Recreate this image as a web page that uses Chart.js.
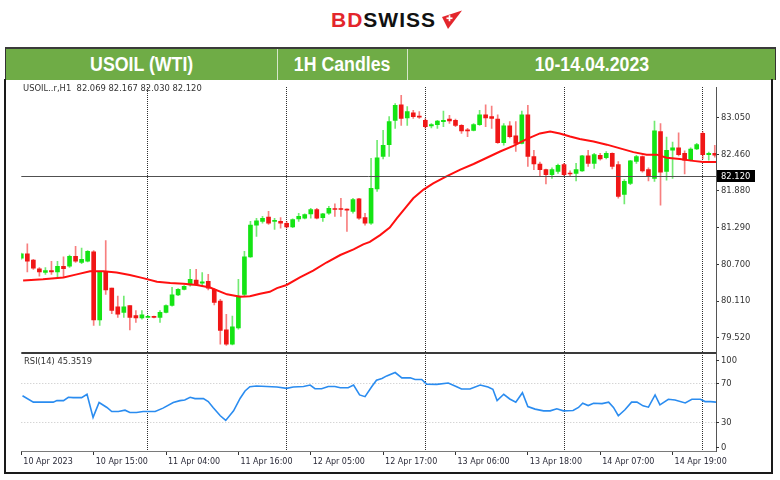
<!DOCTYPE html>
<html><head><meta charset="utf-8">
<script src="https://cdn.jsdelivr.net/npm/chart.js@4.4.0/dist/chart.umd.min.js"></script>
<style>
html,body{margin:0;padding:0;background:#fff;}
body{width:780px;height:480px;position:relative;overflow:hidden;font-family:"Liberation Sans",Arial,sans-serif;}
#logo{position:absolute;left:331px;top:9px;font-weight:bold;font-size:21px;letter-spacing:1px;line-height:22px;white-space:nowrap;}
#logo .bd{color:#e3262c}
#logo .sw{color:#111}
#icon{position:absolute;left:441px;top:10px;}
#hdr{position:absolute;left:5px;top:47px;width:771px;height:33px;background:#6fac46;border-top:2px solid #3a3a3a;border-left:1px solid #333;border-right:1px solid #333;box-sizing:border-box;}
.cell{position:absolute;top:0;height:31px;display:flex;align-items:center;justify-content:center;color:#fff;font-weight:bold;font-size:19.5px;}
.cell span{display:inline-block;transform:scaleX(0.91);}
.dv{position:absolute;top:0;width:1px;height:31px;background:#d6e6ca;}
#frame{position:absolute;left:4px;top:79px;width:769px;height:395px;border-left:2px solid #1a1a1a;border-right:2px solid #1a1a1a;border-bottom:2px solid #1a1a1a;box-sizing:border-box;}
#wrap{position:absolute;left:0;top:80px;width:772px;height:393px;}
.mt{position:absolute;font-family:"DejaVu Sans",sans-serif;font-size:8.4px;color:#333;white-space:pre;line-height:10px;}
</style></head>
<body>
<div id="logo"><span class="bd">BD</span><span class="sw">SWISS</span></div>
<svg id="icon" width="24" height="22" viewBox="0 0 24 22"><polygon points="1,7 21,0.5 7,19" fill="#e3262c"/><rect x="5.5" y="7.4" width="6" height="1.7" fill="#fff"/><rect x="7.65" y="5.25" width="1.7" height="6" fill="#fff"/></svg>
<div id="hdr">
  <div class="cell" style="left:0;width:271px"><span>USOIL (WTI)</span></div>
  <div class="dv" style="left:271px"></div>
  <div class="cell" style="left:272px;width:129px"><span>1H Candles</span></div>
  <div class="dv" style="left:401px"></div>
  <div class="cell" style="left:402px;width:367px"><span>10-14.04.2023</span></div>
</div>
<div id="frame"></div>
<div id="wrap"><canvas id="c" width="772" height="393"></canvas></div>
<div class="mt" style="left:23px;top:83px">USOIL..r,H1  82.069 82.167 82.030 82.120</div>
<div class="mt" style="left:24px;top:356px">RSI(14) 45.3519</div>
<script>
// ---- Candle data (hourly bars) ----
const opens  = [80.80,80.87,80.77,80.63,80.57,80.60,80.58,80.67,80.67,80.83,80.73,80.75,80.90,79.81,80.58,80.32,80.02,79.93,80.04,79.88,79.84,79.85,79.86,79.85,79.93,80.04,80.21,80.30,80.37,80.45,80.40,80.43,80.30,80.11,79.65,79.42,79.68,80.22,80.82,81.33,81.39,81.46,81.39,81.39,81.36,81.30,81.43,81.44,81.51,81.58,81.45,81.52,81.59,81.59,81.58,81.55,81.75,81.45,81.36,81.91,82.43,82.62,83.01,83.26,83.05,83.13,83.08,83.01,82.92,82.94,82.99,83.03,83.01,82.93,82.85,82.85,82.94,83.10,83.07,83.03,82.65,82.92,82.76,82.64,83.10,82.43,82.31,82.22,82.14,82.19,82.30,82.16,82.16,82.20,82.44,82.32,82.45,82.41,82.48,82.30,81.82,82.00,82.35,82.43,82.22,82.08,82.83,82.19,82.53,82.57,82.48,82.37,82.55,82.80,82.46,82.48];
const highs  = [80.88,81.03,80.78,80.65,80.65,80.75,80.75,80.82,80.85,80.99,80.96,80.92,80.92,80.59,81.08,80.32,80.19,80.19,80.04,79.96,79.96,79.88,79.87,79.96,80.05,80.33,80.31,80.36,80.62,80.62,80.57,80.54,80.31,80.14,79.90,79.87,80.46,80.91,81.39,81.44,81.47,81.55,81.44,81.45,81.39,81.43,81.52,81.51,81.60,81.60,81.52,81.63,81.67,81.76,81.59,81.76,81.76,81.52,82.40,82.69,82.85,83.07,83.28,83.41,83.23,83.17,83.15,83.04,82.96,83.01,83.16,83.09,83.03,82.94,82.88,82.96,83.17,83.26,83.24,83.10,82.96,82.99,82.99,83.16,83.25,82.53,82.34,82.23,82.25,82.31,82.32,82.20,82.32,82.45,82.53,82.48,82.48,82.51,82.49,82.35,82.06,82.37,82.45,82.44,82.25,83.00,82.96,82.74,82.66,82.81,82.52,82.57,82.64,82.83,82.50,82.61];
const lows   = [80.78,80.58,80.62,80.51,80.54,80.54,80.49,80.49,80.65,80.73,80.71,80.74,79.72,79.72,80.22,79.91,79.85,79.85,79.65,79.77,79.82,79.84,79.84,79.77,79.92,80.03,80.20,80.29,80.35,80.37,80.35,80.29,80.05,79.42,79.40,79.41,79.66,80.19,80.81,81.15,81.36,81.34,81.26,81.28,81.28,81.29,81.39,81.43,81.44,81.43,81.39,81.50,81.47,81.47,81.23,81.52,81.42,81.33,81.34,81.87,82.39,82.43,82.88,82.93,82.93,83.04,83.04,82.88,82.89,82.88,82.91,82.96,82.91,82.80,82.75,82.84,82.93,82.91,82.88,82.64,82.61,82.73,82.51,82.63,82.27,82.22,82.11,81.99,82.08,82.16,82.11,82.11,82.04,82.19,82.27,82.24,82.37,82.39,82.23,81.76,81.67,81.98,82.32,82.18,82.04,82.03,81.65,82.05,82.08,82.44,82.15,82.36,82.54,82.39,82.37,82.42];
const closes = [80.87,80.75,80.64,80.58,80.60,80.58,80.67,80.63,80.83,80.75,80.78,80.91,79.81,80.58,80.29,79.96,79.90,80.02,79.85,79.84,79.89,79.86,79.85,79.93,80.04,80.21,80.30,80.35,80.46,80.38,80.42,80.32,80.09,79.64,79.42,79.70,80.19,80.82,81.33,81.40,81.44,81.36,81.40,81.36,81.30,81.42,81.47,81.50,81.58,81.44,81.51,81.60,81.58,81.58,81.57,81.74,81.44,81.36,81.92,82.41,82.61,82.99,83.25,83.04,83.15,83.07,83.06,82.91,82.94,83.00,83.01,83.00,82.93,82.84,82.84,82.94,83.10,83.05,83.04,82.65,82.92,82.75,82.64,83.10,82.43,82.31,82.22,82.14,82.22,82.29,82.14,82.15,82.22,82.44,82.32,82.46,82.39,82.48,82.27,81.79,82.03,82.36,82.43,82.20,82.11,82.84,82.18,82.53,82.57,82.46,82.37,82.55,82.62,82.46,82.48,82.45];

// ---- Moving average (read at sampled bar positions) ----
const maBars = [0.3,3.6,7.0,9.2,11.4,13.6,15.8,18.0,20.2,22.5,24.7,26.9,29.1,31.3,34.1,36.3,37.9,39.6,41.2,42.4,44.0,46.2,48.4,50.6,52.9,55.1,56.7,57.8,59.5,61.1,62.3,63.9,65.0,66.7,68.3,70.5,72.8,75.0,77.2,79.4,81.6,83.8,86.0,87.7,89.3,91.0,92.6,94.9,97.1,99.3,101.5,103.7,105.4,107.0,109.2,111.4,113.1,115.2];
const maVals = [80.44,80.46,80.49,80.54,80.59,80.59,80.57,80.53,80.48,80.42,80.40,80.39,80.37,80.33,80.22,80.18,80.19,80.23,80.26,80.32,80.37,80.49,80.60,80.73,80.85,80.94,81.02,81.06,81.17,81.29,81.44,81.63,81.76,81.90,82.00,82.11,82.22,82.31,82.41,82.51,82.60,82.71,82.80,82.83,82.80,82.75,82.71,82.67,82.62,82.56,82.50,82.46,82.46,82.41,82.39,82.36,82.34,82.34];

// ---- RSI(14) (read at vertex bar positions) ----
const rsiBars = [0.2,2.0,5.3,5.9,7.0,7.8,8.6,10.0,10.9,11.9,12.9,14.2,15.0,16.1,17.2,18.0,19.1,20.2,22.2,23.5,25.2,26.3,27.1,28.0,28.8,30.2,31.0,31.8,33.0,33.9,35.2,36.3,37.1,37.9,39.0,40.7,42.4,44.0,45.1,46.8,47.9,48.7,49.8,50.9,52.0,52.9,54.2,55.1,56.1,57.0,58.1,58.9,59.8,60.6,62.0,63.1,64.5,65.3,66.4,67.2,68.9,70.8,72.2,73.0,74.4,76.1,77.4,78.2,78.9,80.0,81.0,82.0,83.1,84.0,85.2,86.6,87.7,88.8,89.9,91.5,92.4,93.1,94.0,94.9,96.3,97.4,98.2,99.0,100.1,101.2,102.1,103.1,104.0,105.1,105.9,107.3,108.4,110.1,111.2,112.6,113.4,114.3,115.2];
const rsiVals = [57.3,50.6,50.6,52.2,52.2,55.7,55.3,55.3,58.8,34.8,50.2,45.1,40.9,40.9,42.3,39.9,39.9,40.9,40.9,44.4,50.2,52.2,52.9,55.7,54.3,54.3,51.2,45.1,36.5,31.7,41.6,54.7,62.2,66.6,67.3,66.9,66.3,64.9,66.3,66.9,68.3,64.5,64.5,66.9,66.9,65.5,65.5,68.3,58.1,56.3,66.6,73.4,75.2,77.8,81.3,75.8,75.8,74.1,74.1,69.3,69.0,70.4,66.6,64.2,64.2,68.3,66.3,63.9,52.2,58.8,53.9,50.6,60.4,46.1,43.4,41.6,41.6,43.7,41.6,42.0,45.1,49.5,47.1,49.5,49.1,50.6,45.1,36.5,42.7,50.6,50.6,46.8,45.4,58.1,47.8,53.6,52.9,49.8,53.6,53.6,51.2,51.2,50.6];

// ---- Axes / ticks ----
const xLabelBars = [0,12,24,36,48,60,72,84,96,108];
const xLabels = ['10 Apr 2023','10 Apr 15:00','11 Apr 04:00','11 Apr 16:00','12 Apr 05:00','12 Apr 17:00','13 Apr 06:00','13 Apr 18:00','14 Apr 07:00','14 Apr 19:00'];
const gridBars = [21,44,67,90,113];
const yTicks = [79.52,80.11,80.70,81.29,81.88,82.46,83.05];
const rsiTicks = [100,70,30,0];
const rsiGrid = [70,30];
const currentPrice = 82.12;

const GREEN = '#14e414', RED = '#f01616';
const GREEN_W = 'rgba(20,220,20,0.6)', RED_W = 'rgba(240,22,22,0.55)';
const up = opens.map((o,i) => closes[i] >= o);

Chart.defaults.font.family = '"DejaVu Sans", sans-serif';

const overlay = {
  id: 'overlay',
  afterDatasetsDraw(chart) {
    const {ctx, chartArea: a, scales} = chart;
    ctx.save();
    const py = Math.round(scales.y.getPixelForValue(currentPrice)) + 0.5;
    ctx.strokeStyle = '#505050'; ctx.lineWidth = 1;
    ctx.beginPath(); ctx.moveTo(a.left, py); ctx.lineTo(a.right, py); ctx.stroke();
    ctx.strokeStyle = '#3a3a3a'; ctx.lineWidth = 2;
    const sy = Math.round(scales.y.bottom);
    ctx.beginPath(); ctx.moveTo(a.left, sy); ctx.lineTo(a.right, sy); ctx.stroke();
    const by = Math.round(a.bottom) + 0.5;
    ctx.strokeStyle = '#7a7a7a'; ctx.lineWidth = 1;
    ctx.beginPath(); ctx.moveTo(a.left, by); ctx.lineTo(a.right, by); ctx.stroke();
    ctx.restore();
  },
  afterDraw(chart) {
    const {ctx, chartArea: a, scales} = chart;
    ctx.save();
    const py = Math.round(scales.y.getPixelForValue(currentPrice));
    ctx.fillStyle = '#000';
    ctx.fillRect(a.right + 1, py - 6, 38, 12);
    ctx.fillStyle = '#fff';
    ctx.font = '8.4px "DejaVu Sans"';
    ctx.textBaseline = 'middle'; ctx.textAlign = 'left';
    ctx.fillText(currentPrice.toFixed(3), a.right + 5, py + 0.5);
    const shift = [6, 0, 0, -4];
    ctx.fillStyle = '#333';
    rsiTicks.forEach((v, i) => {
      const y = Math.round(scales.rsi.getPixelForValue(v) + shift[i]);
      ctx.fillRect(a.right, y, 3, 1);
      ctx.fillText(String(v), a.right + 5, y + 0.5);
    });
    ctx.restore();
  }
};

new Chart(document.getElementById('c'), {
  type: 'bar',
  data: {
    datasets: [
      {type:'line', data: maBars.map((b,i)=>({x:b, y:maVals[i]})), xAxisID:'x', yAxisID:'y',
       borderColor:'#ff1010', borderWidth:2, pointRadius:0, tension:0, order:0},
      {type:'line', data: rsiBars.map((b,i)=>({x:b, y:rsiVals[i]})), xAxisID:'x', yAxisID:'rsi',
       borderColor:'#2a8cf0', borderWidth:1.6, pointRadius:0, tension:0, order:0},
      {type:'bar', data: opens.map((o,i)=>({x:i, y:[o, closes[i]]})), xAxisID:'x', yAxisID:'y',
       backgroundColor: up.map(u => u ? GREEN : RED), barThickness:4, minBarLength:1, grouped:false, order:2},
      {type:'bar', data: lows.map((l,i)=>({x:i, y:[l, highs[i]]})), xAxisID:'x', yAxisID:'y',
       backgroundColor: up.map(u => u ? GREEN_W : RED_W), barThickness:1, grouped:false, order:3}
    ]
  },
  options: {
    responsive:false, animation:false, events:[], devicePixelRatio:1,
    layout:{padding:{left:21.3, top:5, right:0, bottom:0}},
    plugins:{legend:{display:false}, tooltip:{enabled:false}},
    scales: {
      x: {type:'linear', axis:'x', position:'bottom', min:0, max:115.2, offset:false,
          afterBuildTicks: s => { s.ticks = xLabelBars.map(v => ({value:v})); },
          afterFit: s => { s.height = 22; },
          ticks:{autoSkip:false, maxRotation:0, minRotation:0, align:'start', labelOffset:2, padding:2,
                 color:'#2a2a38', font:{size:8}, callback: v => { const k = xLabelBars.indexOf(v); return k >= 0 ? xLabels[k] : ''; }},
          grid:{display:true, drawOnChartArea:false, drawTicks:true, tickLength:4, tickColor:'#333', offset:false},
          border:{display:false}},
      xg: {type:'linear', axis:'x', position:'top', min:0, max:115.2, offset:false,
          afterBuildTicks: s => { s.ticks = gridBars.map(v => ({value:v})); },
          afterFit: s => { s.height = 0; },
          ticks:{display:false},
          grid:{display:true, drawOnChartArea:true, drawTicks:false, color:'#2e2e2e', lineWidth:1, offset:false},
          border:{display:false, dash:[1,1]}},
      y: {type:'linear', axis:'y', position:'right', stack:'pane', stackWeight:267, min:79.286, max:83.544,
          afterBuildTicks: s => { s.ticks = yTicks.map(v => ({value:v})); },
          afterFit: s => { s.width = 56; },
          ticks:{color:'#333', font:{size:8.4}, padding:2, callback: v => Number(v).toFixed(3)},
          grid:{drawOnChartArea:false, drawTicks:true, tickLength:3, tickColor:'#333'},
          border:{display:true, color:'#555', width:1}},
      rsi: {type:'linear', axis:'y', position:'right', stack:'pane', stackWeight:99, min:0, max:102,
          afterBuildTicks: s => { s.ticks = rsiGrid.map(v => ({value:v})); },
          afterFit: s => { s.width = 56; },
          ticks:{display:false},
          grid:{drawOnChartArea:true, drawTicks:false, color:'#c4c4c4'},
          border:{display:true, color:'#555', width:1, dash:[1,2]}}
    }
  },
  plugins:[overlay]
});
</script>
</body></html>
